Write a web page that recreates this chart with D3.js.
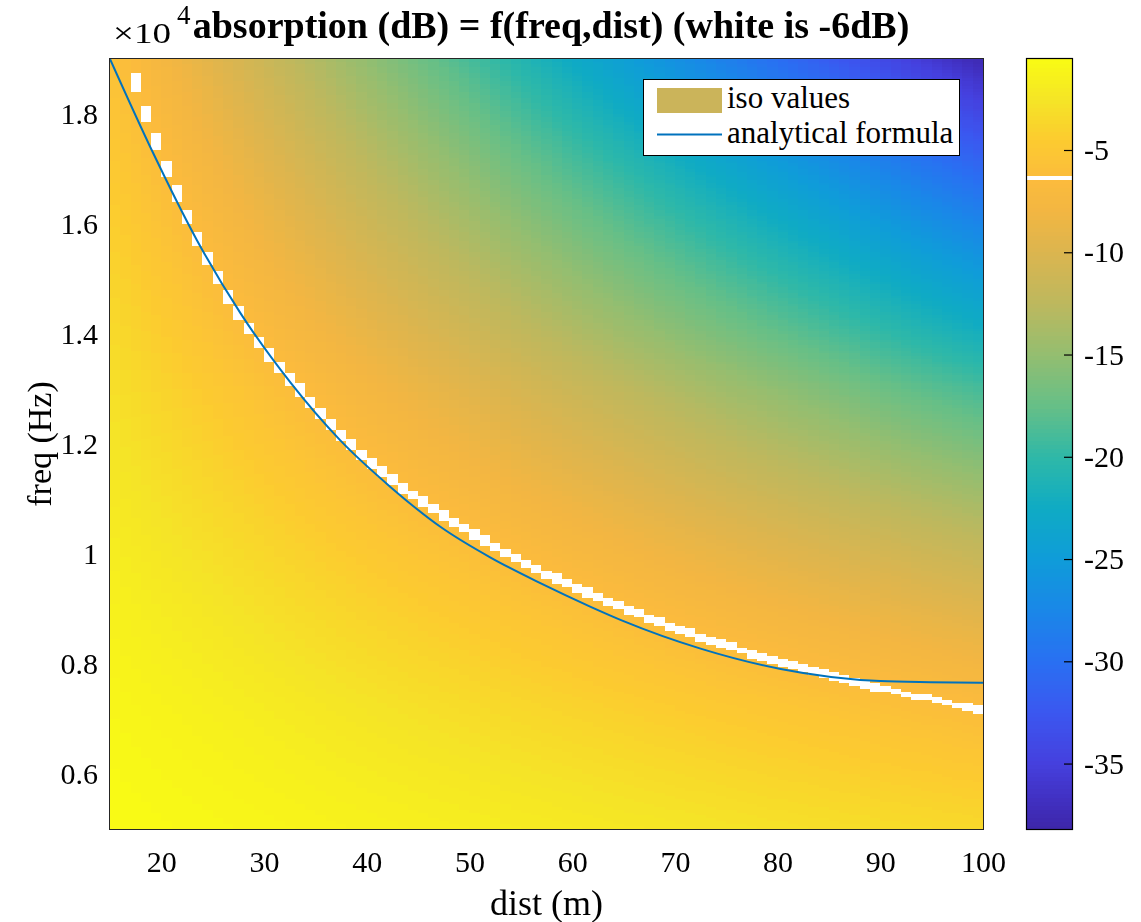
<!DOCTYPE html>
<html>
<head>
<meta charset="utf-8">
<script src="https://cdn.jsdelivr.net/npm/d3@7"></script>
<style>
  html, body { margin: 0; padding: 0; background: #ffffff; }
  #wrap { position: relative; width: 1141px; height: 922px; }
  #wrap canvas, #wrap svg { position: absolute; left: 0; top: 0; }
  text { font-family: "Liberation Serif", "Times New Roman", serif; fill: #000; }
</style>
</head>
<body>
<div id="wrap">
  <canvas id="heat" width="1141" height="922"></canvas>
  <svg id="chart" width="1141" height="922"></svg>
</div>
<script>
// Air absorption coefficient (dB per metre) at sample frequencies (Hz)
const freqSamples = [5000, 7180, 7380, 7560, 7800, 8040, 8930, 9290, 9710, 10200,
                     10750, 11400, 12200, 12980, 14200, 17035, 17510, 18025, 18605, 19000];
const dbPerMetre  = [0.0345, 0.0636, 0.0669, 0.0706, 0.0745, 0.0791, 0.0956, 0.1028, 0.1116, 0.1220,
                     0.1345, 0.1501, 0.1698, 0.1893, 0.2252, 0.3098, 0.3256, 0.3432, 0.3629, 0.3769];

// Grid of the absorption map: 1 m distance steps, 50 Hz frequency steps
const distStart = 15, distEnd = 100, distStep = 1;
const freqStart = 5000, freqEnd = 19000, freqStep = 50;

// Colour limits and the level painted white
const colorLimits = [-38.2, -0.55];
const isoLevel = -6.3;

// Colour bar stops (dB -> colour)
const stopValues = [-38.2, -37, -35, -32.5, -30, -27.5, -25, -22.5, -20, -17.5,
                    -15, -12.5, -10, -8, -6.5, -4.5, -2.5, -0.55];
const stopColors = ["#3d26a8", "#402ebd", "#4540de", "#3b57f0", "#2970f2", "#1a87e8", "#0f9cd9", "#0fabc4", "#2eb8a8", "#66bf87",
                    "#94be70", "#bdb85e", "#dbb54f", "#f2b642", "#fbbb3d", "#fccb30", "#f5e526", "#f9fb14"];

// -6 dB curve given by the analytical formula
const analyticDist = [15, 19.2, 23.45, 27.7, 32.6, 37.4, 42.3, 47.2, 52.1, 56.9,
                      61.8, 65.0, 72.5, 80.3, 85.2, 90.0, 94.9, 100];
const analyticFreq = [19000, 17290, 15710, 14380, 13110, 12070, 11220, 10490, 9930, 9470,
                      9040, 8780, 8280, 7910, 7765, 7690, 7670, 7660];

// Tick labels
const distTicks = [20, 30, 40, 50, 60, 70, 80, 90, 100];
const freqTicks = [6000, 8000, 10000, 12000, 14000, 16000, 18000];
const dbTicks = [-35, -30, -25, -20, -15, -10, -5];

// ---------- layout ----------
const plot = { left: 110, right: 983, top: 59, bottom: 829 };
const cbar = { left: 1027, right: 1072, top: 59, bottom: 829 };

const x = d3.scaleLinear().domain([distStart, distEnd]).range([plot.left, plot.right]);
const y = d3.scaleLinear().domain([freqStart, freqEnd]).range([plot.bottom, plot.top]);

// coefficient between sample frequencies, linear in log-log space
const logCoef = d3.scaleLog().domain(freqSamples).range(dbPerMetre.map(Math.log));
const coefAt = f => Math.exp(logCoef(f));

// cells of the absorption map
const distCells = d3.range(distStart, distEnd, distStep);
const freqCells = d3.range(freqStart, freqEnd, freqStep);
const cells = [];
for (const d of distCells) {
  for (const f of freqCells) {
    const dc = d + distStep / 2, fc = f + freqStep / 2;
    cells.push({ d, f, v: -coefAt(fc) * dc });
  }
}

// colour map of N entries with one white entry at the iso level
const N = 192;
const [vmin, vmax] = colorLimits;
const binW = (vmax - vmin) / N;
const binOf = v => Math.max(0, Math.min(N - 1, Math.floor((v - vmin) / binW)));
const stopScale = d3.scaleLinear().domain(stopValues).range(stopColors).interpolate(d3.interpolateRgb).clamp(true);
const whiteBin = binOf(isoLevel);
const cmap = d3.range(N).map(i => i === whiteBin ? "#ffffff" : stopScale(vmin + (i + 0.5) * binW));

// ---------- heat map on canvas ----------
const ctx = document.getElementById("heat").getContext("2d");
for (const c of cells) {
  const x0 = Math.round(x(c.d)), x1 = Math.round(x(c.d + distStep));
  const y0 = Math.round(y(c.f + freqStep)), y1 = Math.round(y(c.f));
  ctx.fillStyle = cmap[binOf(c.v)];
  ctx.fillRect(x0, y0, x1 - x0, y1 - y0);
}

// ---------- svg overlay ----------
const svg = d3.select("#chart");

svg.append("defs").append("clipPath").attr("id", "plotClip")
  .append("rect")
  .attr("x", plot.left).attr("y", plot.top)
  .attr("width", plot.right - plot.left).attr("height", plot.bottom - plot.top);

// analytical -6 dB curve
const curvePts = analyticDist.map((d, i) => [d, analyticFreq[i]]);
svg.append("path")
  .datum(curvePts)
  .attr("clip-path", "url(#plotClip)")
  .attr("fill", "none")
  .attr("stroke", "#0072BD")
  .attr("stroke-width", 2)
  .attr("d", d3.line().x(p => x(p[0])).y(p => y(p[1])).curve(d3.curveMonotoneX));

// axes frame
svg.append("rect")
  .attr("x", plot.left - 0.5).attr("y", plot.top - 0.5)
  .attr("width", plot.right - plot.left + 1).attr("height", plot.bottom - plot.top + 1)
  .attr("fill", "none").attr("stroke", "#262626").attr("stroke-width", 1);

// x axis
const xAxis = svg.append("g")
  .attr("transform", `translate(0,${plot.bottom})`)
  .call(d3.axisBottom(x).tickValues(distTicks).tickSize(0).tickPadding(22).tickFormat(d3.format("d")));
xAxis.select(".domain").remove();
xAxis.selectAll("text").style("font-size", "30px").style("font-family", "Liberation Serif, serif").attr("fill", "#000");

// y axis
const yAxis = svg.append("g")
  .attr("transform", `translate(${plot.left},0)`)
  .call(d3.axisLeft(y).tickValues(freqTicks).tickSize(0).tickPadding(12).tickFormat(d => String(d / 1e4)));
yAxis.select(".domain").remove();
yAxis.selectAll("text").style("font-size", "30px").style("font-family", "Liberation Serif, serif").attr("fill", "#000");

// axis labels
svg.append("text")
  .attr("x", (plot.left + plot.right) / 2).attr("y", 915)
  .attr("text-anchor", "middle").style("font-size", "36px")
  .text("dist (m)");
svg.append("text")
  .attr("transform", `translate(51,${(plot.top + plot.bottom) / 2}) rotate(-90)`)
  .attr("text-anchor", "middle").style("font-size", "34px")
  .text("freq (Hz)");

// exponent of the y axis
svg.append("text").attr("x", 113).attr("y", 43)
  .style("font-size", "29px")
  .attr("textLength", 58).attr("lengthAdjust", "spacingAndGlyphs")
  .text("\u00d710");
svg.append("text").attr("x", 177).attr("y", 24)
  .style("font-size", "27px")
  .text("4");

// title
svg.append("text")
  .attr("x", 551).attr("y", 38)
  .attr("text-anchor", "middle")
  .style("font-size", "38px").style("font-weight", "bold")
  .text("absorption (dB) = f(freq,dist) (white is -6dB)");

// ---------- colour bar ----------
const cb = d3.scaleLinear().domain([vmin, vmax]).range([cbar.bottom, cbar.top]);
svg.append("g").selectAll("rect")
  .data(d3.range(N))
  .join("rect")
  .attr("x", cbar.left)
  .attr("width", cbar.right - cbar.left)
  .attr("y", i => cb(vmin + (i + 1) * binW))
  .attr("height", i => cb(vmin + i * binW) - cb(vmin + (i + 1) * binW) + 0.6)
  .attr("fill", i => cmap[i])
  .attr("shape-rendering", "crispEdges");

svg.append("rect")
  .attr("x", cbar.left - 0.5).attr("y", cbar.top - 0.5)
  .attr("width", cbar.right - cbar.left + 1).attr("height", cbar.bottom - cbar.top + 1)
  .attr("fill", "none").attr("stroke", "#000").attr("stroke-width", 1.2);

const cbAxis = svg.append("g")
  .attr("transform", `translate(${cbar.right},0)`)
  .call(d3.axisRight(cb).tickValues(dbTicks).tickSizeInner(-8).tickSizeOuter(0).tickPadding(12).tickFormat(d => String(d)));
cbAxis.select(".domain").remove();
cbAxis.selectAll("line").attr("stroke", "#000").attr("stroke-width", 1.2);
cbAxis.selectAll("text").style("font-size", "30px").style("font-family", "Liberation Serif, serif").attr("fill", "#000");

// ---------- legend ----------
const lg = svg.append("g");
lg.append("rect")
  .attr("x", 643.5).attr("y", 79.5).attr("width", 316).attr("height", 76)
  .attr("fill", "#ffffff").attr("stroke", "#000").attr("stroke-width", 1);
lg.append("rect")
  .attr("x", 657).attr("y", 88).attr("width", 65).attr("height", 25)
  .attr("fill", "#cbb45a");
lg.append("text").attr("x", 727).attr("y", 108).style("font-size", "31px").text("iso values");
lg.append("line")
  .attr("x1", 657).attr("x2", 722).attr("y1", 134.5).attr("y2", 134.5)
  .attr("stroke", "#0072BD").attr("stroke-width", 2);
lg.append("text").attr("x", 727).attr("y", 143).style("font-size", "31px").text("analytical formula");
</script>
</body>
</html>
